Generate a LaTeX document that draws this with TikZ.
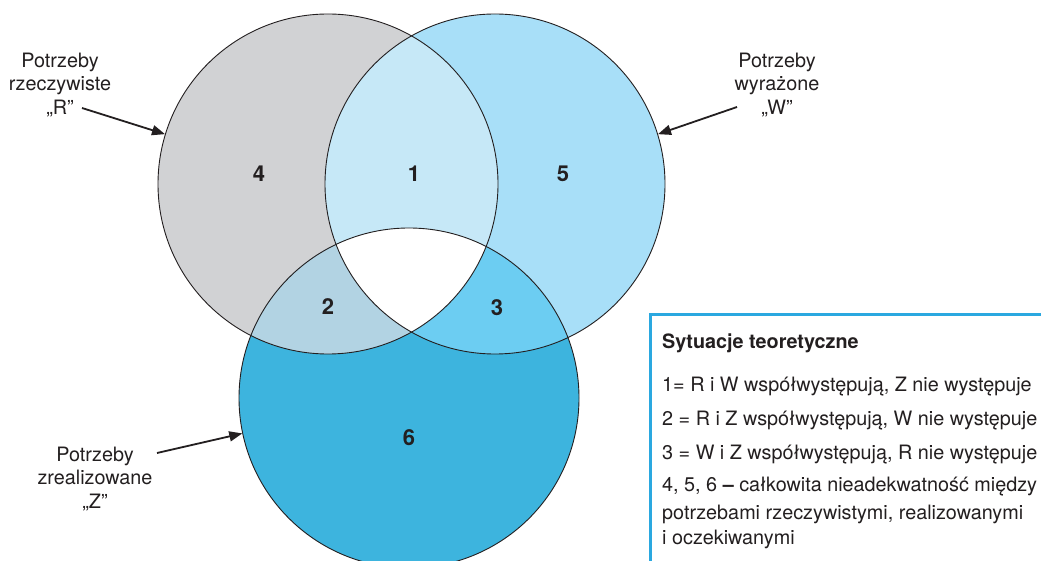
\documentclass[tikz,border=0pt]{standalone}
\usepackage{fontspec}
\setmainfont{TeX Gyre Heros}
\usetikzlibrary{arrows.meta}
\definecolor{txt}{HTML}{231F20}
\definecolor{cR}{HTML}{D1D2D4}
\definecolor{cW}{HTML}{A8DFF8}
\definecolor{cRW}{HTML}{C6E8F7}
\definecolor{cZ}{HTML}{3DB4DE}
\definecolor{cRZ}{HTML}{B2D3E3}
\definecolor{cWZ}{HTML}{6CCDF2}
\definecolor{frame}{HTML}{2AA8E0}
\tikzset{
  ring/.style={circle, draw=txt, line width=0.9pt, minimum size=340pt, inner sep=0pt},
  lbl/.style={align=center, text=txt, font=\fontsize{19.8}{23.5}\selectfont},
  num/.style={text=txt, font=\fontsize{22}{24}\selectfont\bfseries},
  leg/.style={anchor=base west, text=txt, inner sep=0pt, font=\fontsize{19.8}{26}\selectfont},
  pointer/.style={draw=txt, line width=1.8pt, -{Triangle[length=13pt,width=10pt]}}
}
\begin{document}
\begin{tikzpicture}[x=1pt,y=-1pt]
\useasboundingbox (0,0) rectangle (1041,561);
\fill[white] (0,0) rectangle (1041,561);
\coordinate (cr) at (328,184);
\coordinate (cw) at (495,184);
\coordinate (cz) at (409,398);
% base fills
\fill[cR] (cr) circle (170);
\fill[cW] (cw) circle (170);
\fill[cZ] (cz) circle (170);
% pairwise intersections
\begin{scope}
  \clip (cr) circle (170);
  \fill[cRW] (cw) circle (170);
  \fill[cRZ] (cz) circle (170);
\end{scope}
\begin{scope}
  \clip (cw) circle (170);
  \fill[cWZ] (cz) circle (170);
\end{scope}
\begin{scope}
  \clip (cr) circle (170);
  \clip (cw) circle (170);
  \fill[white] (cz) circle (170);
\end{scope}
% outlines
\node[ring] (R) at (cr) {};
\node[ring] (W) at (cw) {};
\node[ring] (Z) at (cz) {};
% region numbers
\node[num] (n4) at (259,174) {4};
\node[num] (n1) at (414,174) {1};
\node[num] (n5) at (563,174) {5};
\node[num] (n2) at (328,307) {2};
\node[num] (n3) at (497,308) {3};
\node[num] (n6) at (409,438) {6};
% outer labels
\node[lbl] (lR) at (60,85) {Potrzeby\\rzeczywiste\\„R”};
\node[lbl] (lW) at (777,85) {Potrzeby\\wyrażone\\„W”};
\node[lbl] (lZ) at (95,479) {Potrzeby\\zrealizowane\\„Z”};
\coordinate (aR) at (82,108);
\coordinate (aW) at (737,107);
\coordinate (aZ) at (157,453);
\draw[pointer] (aR) -- (R.163);
\draw[pointer] (aW) -- (W.17);
\draw[pointer] (aZ) -- (Z.192);
% legend frame
\coordinate (fb) at (650,561);
\coordinate (fc) at (650,314);
\coordinate (fr) at (1041,314);
\draw[frame, line width=3pt] (fb) -- (fc) -- (fr);
\node[leg, font=\fontsize{19.8}{26}\selectfont\bfseries] (t0) at (662,348) {Sytuacje teoretyczne};
\node[leg] (t1) at (662,391) {1= R i W współwystępują, Z nie występuje};
\node[leg] (t2) at (662,425) {2 = R i Z współwystępują, W nie występuje};
\node[leg] (t3) at (662,459) {3 = W i Z współwystępują, R nie występuje};
\node[leg] (t4) at (662,491) {4, 5, 6 \textbf{–} całkowita nieadekwatność między};
\node[leg] (t5) at (662,519) {potrzebami rzeczywistymi, realizowanymi};
\node[leg] (t6) at (662,544) {i oczekiwanymi};
\end{tikzpicture}
\end{document}
